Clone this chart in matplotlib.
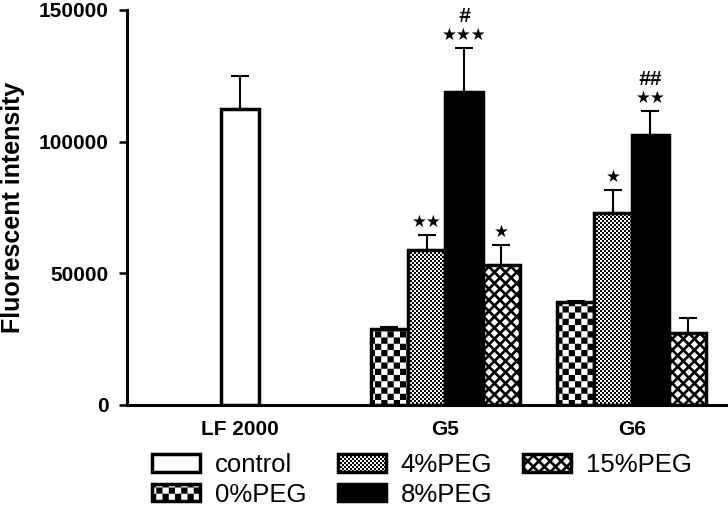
import warnings
import numpy as np
import matplotlib
matplotlib.use('Agg')
import matplotlib.pyplot as plt
import matplotlib.hatch as mhatch
from matplotlib.path import Path

warnings.filterwarnings('ignore', category=matplotlib.MatplotlibDeprecationWarning)

# data
groups = ['LF 2000', 'G5', 'G6']
peg_names = ['0%PEG', '4%PEG', '8%PEG', '15%PEG']
control = [112500]
control_err = [12500]
peg0 = [29000, 39000]
peg0_err = [600, 600]
peg4 = [59000, 73000]
peg4_err = [5600, 8700]
peg8 = [119000, 102700]
peg8_err = [16700, 9000]
peg15 = [53000, 27200]
peg15_err = [7600, 6000]
stars = [['', ''], ['**', '*'], ['***', '**'], ['*', '']]
hashes = [['', ''], ['', ''], ['#', '##'], ['', '']]
yticks = [0, 50000, 100000, 150000]


# checkerboard hatches ('c' coarse, 'k' fine) drawn as filled squares
class Checker(mhatch.HatchPatternBase):
    def __init__(self, hatch, density):
        self.n = 16 * hatch.count('c') + 50 * hatch.count('k')
        self.cells = [(i, j) for i in range(self.n) for j in range(self.n)
                      if (i + j) % 2 == 0]
        self.num_vertices = 5 * len(self.cells)

    def set_vertices_and_codes(self, vertices, codes):
        s = 1.0 / self.n
        sq = np.array([[0, 0], [1, 0], [1, 1], [0, 1], [0, 0]]) * s
        for k, (i, j) in enumerate(self.cells):
            vertices[5*k:5*k+5] = sq + [i*s, j*s]
            codes[5*k] = Path.MOVETO
            codes[5*k+1:5*k+4] = Path.LINETO
            codes[5*k+4] = Path.CLOSEPOLY


# black lattice with white diamond holes ('d')
class Diamonds(mhatch.HatchPatternBase):
    def __init__(self, hatch, density):
        self.n = 9 * hatch.count('d')
        m = 2 * self.n
        self.centers = [(a, b) for a in range(-1, m + 2) for b in range(-1, m + 2)
                        if self.n and (a + b) % 2 == 1]
        self.num_vertices = (5 + 5 * len(self.centers)) if self.n else 0

    def set_vertices_and_codes(self, vertices, codes):
        m = 2.0 * self.n
        h = 1.0 / m - 0.027 / np.sqrt(2)
        vertices[0:5] = [[0, 0], [1, 0], [1, 1], [0, 1], [0, 0]]
        codes[0] = Path.MOVETO
        codes[1:4] = Path.LINETO
        codes[4] = Path.CLOSEPOLY
        for k, (a, b) in enumerate(self.centers):
            cx, cy = a / m, b / m
            i = 5 + 5 * k
            vertices[i:i+5] = [[cx, cy + h], [cx + h, cy], [cx, cy - h],
                               [cx - h, cy], [cx, cy + h]]
            codes[i] = Path.MOVETO
            codes[i+1:i+4] = Path.LINETO
            codes[i+4] = Path.CLOSEPOLY


mhatch._hatch_types.append(Checker)
mhatch._hatch_types.append(Diamonds)

plt.rcParams['font.family'] = ['Liberation Sans', 'DejaVu Sans']
plt.rcParams['font.weight'] = 'bold'
plt.rcParams['hatch.linewidth'] = 0.0

fig = plt.figure(figsize=(7.28, 5.08), dpi=100)
ax = fig.add_axes([0.1745, 0.2028, 0.8255, 0.7776])

group_x = np.array([0, 5.5, 10.5])
offsets = [-1.5, -0.5, 0.5, 1.5]
peg_vals = [peg0, peg4, peg8, peg15]
peg_errs = [peg0_err, peg4_err, peg8_err, peg15_err]
faces = ['white', 'white', 'black', 'white']
hatch_codes = ['c', 'k', None, 'd']
lw = 2.5

bars = []
b = ax.bar(group_x[:1], control, width=1.0, color='white', edgecolor='black',
           linewidth=lw, label='control', zorder=2)
bars.append(b)
ax.errorbar(group_x[:1], control, yerr=[np.zeros(1), control_err], fmt='none',
            ecolor='black', elinewidth=1.5, capsize=6.5, capthick=1.5, zorder=3)

for k in range(4):
    x = group_x[1:] + offsets[k]
    b = ax.bar(x, peg_vals[k], width=1.0, color=faces[k], edgecolor='black',
               linewidth=lw, hatch=hatch_codes[k], label=peg_names[k], zorder=2)
    bars.append(b)
    top = np.array(peg_vals[k]) + np.array(peg_errs[k])
    ax.errorbar(x, peg_vals[k], yerr=[np.zeros(2), peg_errs[k]], fmt='none',
                ecolor='black', elinewidth=1.5, capsize=6.5, capthick=1.5, zorder=3)
    for xi, ti, s, hs in zip(x, top, stars[k], hashes[k]):
        if s:
            ax.annotate('\u2605' * len(s), (xi, ti), xytext=(0, 13),
                        textcoords='offset pixels', ha='center', va='center',
                        fontsize=12, family='DejaVu Sans')
        if hs:
            ax.annotate(hs, (xi, ti), xytext=(0, 31), textcoords='offset pixels',
                        ha='center', va='center', fontsize=15, style='italic')

ax.set_xlim(-3.03, 13.08)
ax.set_ylim(0, 150000)
ax.set_yticks(yticks, [str(t) for t in yticks])
ax.set_xticks(group_x, groups)
ax.tick_params(axis='y', length=6, width=1.8, pad=7, labelsize=15)
ax.tick_params(axis='x', length=0, pad=11, labelsize=15)
ax.set_ylabel('Fluorescent intensity', fontsize=18, fontweight='bold', labelpad=10)
ax.spines[['top', 'right']].set_visible(False)
ax.spines[['left', 'bottom']].set_linewidth(2.2)

fig.legend(handles=bars, loc='upper left', bbox_to_anchor=(152 / 728, 1 - 453 / 508),
           ncol=3, frameon=False, prop={'size': 18.5, 'weight': 'normal'},
           handlelength=1.87, handleheight=0.66, handletextpad=0.59,
           columnspacing=1.2, labelspacing=0.22, borderpad=0, borderaxespad=0)

fig.savefig('out.png', dpi=100)
